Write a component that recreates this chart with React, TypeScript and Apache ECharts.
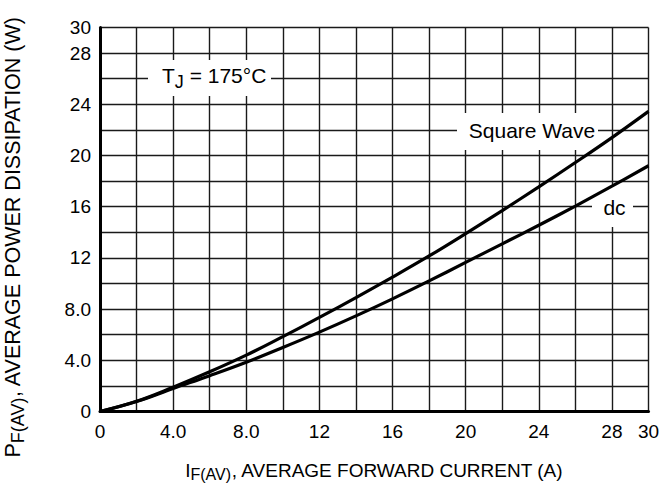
import React, { useEffect, useRef } from "react";
import * as echarts from "echarts";

const xValues = [0, 2, 4, 6, 8, 10, 12, 14, 16, 18, 20, 22, 24, 26, 28, 30];
const squareWave = [0, 0.8, 1.9, 3.1, 4.4, 5.85, 7.35, 8.9, 10.5, 12.15, 13.9, 15.7, 17.55, 19.45, 21.4, 23.45];
const dc = [0, 0.78, 1.8, 2.8, 3.85, 5.0, 6.2, 7.47, 8.8, 10.2, 11.65, 13.1, 14.55, 16.05, 17.6, 19.2];
const tickLabels: Record<number, string> = { 0: "0", 4: "4.0", 8: "8.0", 12: "12", 16: "16", 20: "20", 24: "24", 28: "28", 30: "30" };

const FONT = "'Liberation Sans', Arial, Helvetica, sans-serif";

export default function App() {
  const ref = useRef<HTMLDivElement>(null);
  useEffect(() => {
    const chart = echarts.init(ref.current!, null, { renderer: "svg" });
    const fmt = (v: number) => (tickLabels[v] !== undefined ? tickLabels[v] : "");
    const gridLine = { show: true, lineStyle: { color: "#1a1a1a", width: 1.4 } };
    chart.setOption({
      animation: false,
      backgroundColor: "#fff",
      textStyle: { fontFamily: FONT },
      grid: { left: 100, right: 14.5, top: 27.5, bottom: 79.5, containLabel: false, outerBoundsMode: "none" },
      xAxis: {
        type: "value",
        min: 0,
        max: 30,
        interval: 2,
        axisLine: { show: true, onZero: false, lineStyle: { color: "#000", width: 3 } },
        axisTick: { show: false },
        splitLine: gridLine,
        axisLabel: { formatter: fmt, color: "#000", fontSize: 19, fontFamily: FONT, margin: 10, showMaxLabel: true, showMinLabel: true, hideOverlap: false },
        name: "{m|I}{s|F(AV)}{m|, AVERAGE FORWARD CURRENT (A)}",
        nameLocation: "middle",
        nameGap: 46,
        nameTextStyle: {
          color: "#000",
          rich: {
            m: { fontSize: 19, fontFamily: FONT, color: "#000" },
            s: { fontSize: 16, fontFamily: FONT, color: "#000", padding: [9, 0, 0, 0] },
          },
        },
      },
      yAxis: {
        type: "value",
        min: 0,
        max: 30,
        interval: 2,
        axisLine: { show: true, onZero: false, lineStyle: { color: "#000", width: 3 } },
        axisTick: { show: false },
        splitLine: gridLine,
        axisLabel: { formatter: fmt, color: "#000", fontSize: 19, fontFamily: FONT, margin: 9, showMaxLabel: true, showMinLabel: true, hideOverlap: false },
      },
      series: [
        {
          name: "Square Wave",
          type: "line",
          data: xValues.map((x, i) => [x, squareWave[i]]),
          smooth: 0.4,
          showSymbol: false,
          lineStyle: { color: "#000", width: 3.2 },
          z: 5,
        },
        {
          name: "dc",
          type: "line",
          data: xValues.map((x, i) => [x, dc[i]]),
          smooth: 0.4,
          showSymbol: false,
          lineStyle: { color: "#000", width: 3.2 },
          z: 5,
        },
      ],
      graphic: [
        { type: "rect", z: 1, shape: { x: 148, y: 60, width: 123, height: 36 }, style: { fill: "#fff" } },
        { type: "rect", z: 1, shape: { x: 457, y: 113, width: 141, height: 37 }, style: { fill: "#fff" } },
        { type: "rect", z: 1, shape: { x: 592, y: 187, width: 41, height: 40 }, style: { fill: "#fff" } },
        {
          type: "text",
          z: 2,
          x: 162,
          y: 75,
          style: {
            text: "{n|T}{s|J}{n| = 175°C}",
            align: "left",
            verticalAlign: "middle",
            fill: "#000",
            rich: {
              n: { fontSize: 21, fontFamily: FONT, fill: "#000" },
              s: { fontSize: 18, fontFamily: FONT, fill: "#000", padding: [13, 0, 0, 0] },
            },
          },
        },
        {
          type: "text",
          z: 2,
          x: 532,
          y: 130,
          style: { text: "Square Wave", align: "center", verticalAlign: "middle", fill: "#000", font: `21px ${FONT}` },
        },
        {
          type: "text",
          z: 2,
          x: 614.5,
          y: 207,
          style: { text: "dc", align: "center", verticalAlign: "middle", fill: "#000", font: `21px ${FONT}` },
        },
        {
          type: "text",
          z: 2,
          x: 13,
          y: 237,
          rotation: Math.PI / 2,
          style: {
            text: "{m|P}{s|F(AV)}{m|, AVERAGE POWER DISSIPATION (W)}",
            align: "center",
            verticalAlign: "middle",
            fill: "#000",
            rich: {
              m: { fontSize: 21.5, fontFamily: FONT, fill: "#000" },
              s: { fontSize: 18, fontFamily: FONT, fill: "#000", padding: [9, 0, 0, 0] },
            },
          },
        },
      ],
    });
    return () => chart.dispose();
  }, []);
  return <div ref={ref} style={{ width: 663, height: 491, position: "absolute", left: 0, top: 0 }} />;
}
